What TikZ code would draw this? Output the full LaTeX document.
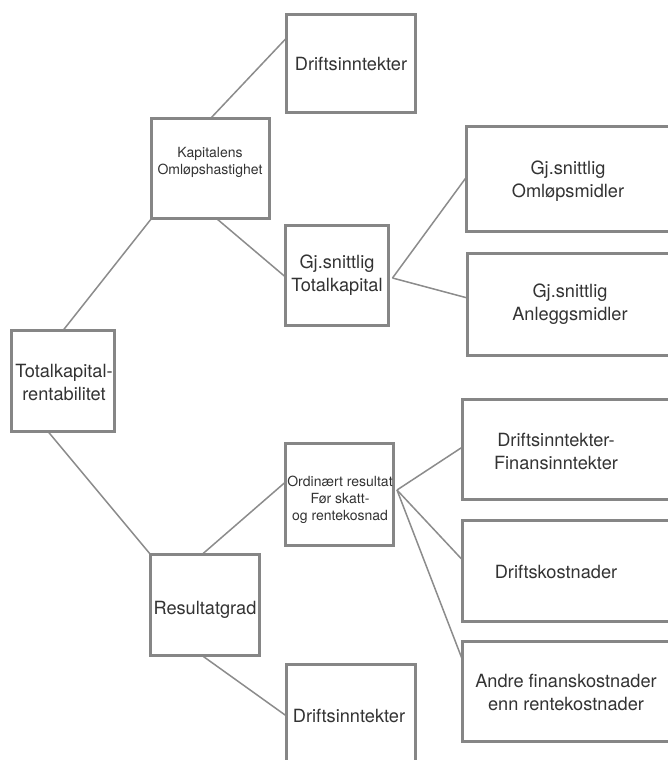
\documentclass[tikz,border=0pt]{standalone}
\usepackage{fontspec}
\setmainfont{TeX Gyre Heros}
\usetikzlibrary{backgrounds,calc}
\definecolor{boxgray}{HTML}{868686}
\definecolor{linegray}{HTML}{8C8C8C}
\definecolor{txt}{HTML}{333333}
\begin{document}
\begin{tikzpicture}[x=1pt,y=-1pt,
  box/.style={draw=boxgray, line width=3.2pt, fill=white, rectangle, inner sep=0pt, outer sep=0pt},
  big/.style={text=txt, font=\fontsize{18.2}{23}\selectfont, align=center, inner sep=0pt},
  small/.style={text=txt, font=\fontsize{14}{17}\selectfont, align=center, inner sep=0pt},
  conn/.style={draw=linegray, line width=1.5pt}]
\useasboundingbox (0,0) rectangle (668,760);
\clip (0,0) rectangle (668,760);
% boxes
\node[box, minimum width=129pt, minimum height=98pt]  (A)   at (351,63.5)   {};
\node[box, minimum width=118pt, minimum height=100pt] (K)   at (210.5,168.5) {};
\node[box, minimum width=103pt, minimum height=100pt] (T)   at (337,275.5)  {};
\node[box, minimum width=212pt, minimum height=105pt] (O)   at (572.5,179)  {};
\node[box, minimum width=211pt, minimum height=102pt] (An)  at (573,304.5)  {};
\node[box, minimum width=103pt, minimum height=101pt] (R)   at (63,381)     {};
\node[box, minimum width=108pt, minimum height=102pt] (Ord) at (339.5,494.5) {};
\node[box, minimum width=109pt, minimum height=101pt] (Res) at (205,605)    {};
\node[box, minimum width=129pt, minimum height=114pt] (B)   at (351,721.5)  {};
\node[box, minimum width=216pt, minimum height=100pt] (DF)  at (570.5,449.5) {};
\node[box, minimum width=216pt, minimum height=101pt] (DK)  at (570.5,571)  {};
\node[box, minimum width=216pt, minimum height=100pt] (AF)  at (570.5,691.5) {};
% texts
\node[big]   (tA)   at (351,64)  {Driftsinntekter};
\node[small] (tK)   at (210,162) {Kapitalens\\Omløpshastighet};
\node[big]   (tT)   at (337,275) {Gj.snittlig\\Totalkapital};
\node[big]   (tO)   at (568,181) {Gj.snittlig\\Omløpsmidler};
\node[big]   (tAn)  at (570,304) {Gj.snittlig\\Anleggsmidler};
\node[big]   (tR)   at (64,382)  {Totalkapital-\\rentabilitet};
\node[small] (tOrd) at (340,500) {Ordinært resultat\\Før skatt-\\og rentekosnad};
\node[big]   (tRes) at (205,610) {Resultatgrad};
\node[big]   (tB)   at (349,716) {Driftsinntekter};
\node[big]   (tDF)  at (556,451) {Driftsinntekter-\\Finansinntekter};
\node[big]   (tDK)  at (556,572) {Driftskostnader};
\node[big]   (tAF)  at (566,692) {Andre finanskostnader\\enn rentekostnader};
% junctions
\coordinate (tj) at ([shift={(4pt,-2.5pt)}]T.east);
\coordinate (oj) at ([shift={(3.5pt,4.5pt)}]Ord.east);
\begin{scope}[on background layer]
\fill[white] (0,0) rectangle (668,760);
\draw[conn] (R.north) -- (K.south west);
\draw[conn] (K.north) -- ([yshift=25.5pt]A.west);
\draw[conn] ([xshift=6pt]K.south) -- ([yshift=-1.5pt]T.west);
\draw[conn] (tj) -- ([yshift=2pt]O.west);
\draw[conn] (tj) -- ([yshift=6.5pt]An.west);
\draw[conn] ([xshift=-15pt]R.south) -- (Res.north west);
\draw[conn] ([xshift=-3pt]Res.north) -- ([yshift=12.5pt]Ord.west);
\draw[conn] ([xshift=-3pt]Res.south) -- ([yshift=5.5pt]B.west);
\draw[conn] (oj) -- ([yshift=2.5pt]DF.west);
\draw[conn] (oj) -- ([yshift=11pt]DK.west);
\draw[conn] (oj) -- ([yshift=31.5pt]AF.west);
\end{scope}
\end{tikzpicture}
\end{document}
